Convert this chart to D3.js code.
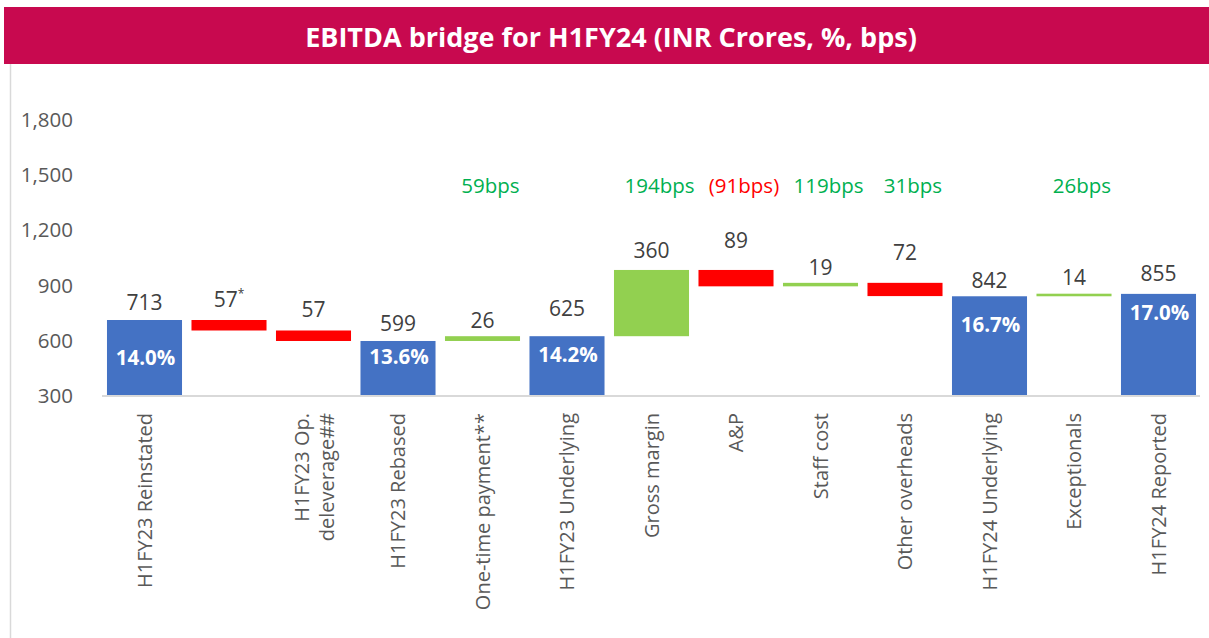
<!DOCTYPE html>
<html lang="en">
<head>
<meta charset="utf-8">
<title>EBITDA bridge for H1FY24</title>
<script src="https://d3js.org/d3.v7.min.js"></script>
<style>
  body { margin: 0; background: #fff; }
  svg { display: block; font-family: "Open Sans", sans-serif; }
</style>
</head>
<body>
<script>
// chart data
var categories = [
  ["H1FY23 Reinstated"], [], ["H1FY23 Op.", "deleverage##"], ["H1FY23 Rebased"],
  ["One-time payment**"], ["H1FY23 Underlying"], ["Gross margin"], ["A&P"],
  ["Staff cost"], ["Other overheads"], ["H1FY24 Underlying"], ["Exceptionals"],
  ["H1FY24 Reported"]
];
var values = [713, -57, -57, 599, 26, 625, 360, -89, 19, -72, 842, 14, 855];
var kinds = ["total", "dec", "dec", "total", "inc", "total", "inc", "dec", "inc", "dec", "total", "inc", "total"];
var valueLabels = ["713", "57", "57", "599", "26", "625", "360", "89", "19", "72", "842", "14", "855"];
var valueNotes = ["", "*", "", "", "", "", "", "", "", "", "", "", ""];
var marginLabels = ["14.0%", null, null, "13.6%", null, "14.2%", null, null, null, null, "16.7%", null, "17.0%"];
var bpsLabels = [null, null, null, null, "59bps", null, "194bps", "(91bps)", "119bps", "31bps", null, "26bps", null];
var bpsGood = [null, null, null, null, true, null, true, false, true, true, null, true, null];
var yTicks = [300, 600, 900, 1200, 1500, 1800];

// small hand nudges (px) for label placement, as in the source slide
var valueGap = [10, 13, 13, 10, 8, 20, 12, 22, 8, 23, 8, 9, 13];
var marginGap = [38, 0, 0, 16, 0, 19, 0, 0, 0, 0, 29, 0, 19];

var W = 1209, H = 638;
var colors = { total: "#4472C4", dec: "#FF0000", inc: "#92D050" };

var svg = d3.select("body").append("svg")
  .attr("width", W)
  .attr("height", H);

// title band
svg.append("rect")
  .attr("x", 4).attr("y", 7)
  .attr("width", W - 4).attr("height", 57)
  .attr("fill", "#C8094F");
svg.append("text")
  .attr("x", 611).attr("y", 47)
  .attr("text-anchor", "middle")
  .attr("fill", "#fff")
  .attr("font-weight", "bold")
  .attr("font-size", "27px")
  .text("EBITDA bridge for H1FY24 (INR Crores, %, bps)");

// plot frame line on the left
svg.append("line")
  .attr("x1", 10.5).attr("x2", 10.5)
  .attr("y1", 64).attr("y2", H)
  .attr("stroke", "#D9D9D9").attr("stroke-width", 1.5);

// running totals for the waterfall
var rows = [];
var running = 0;
for (var i = 0; i < values.length; i++) {
  var lo, hi;
  if (kinds[i] == "total") {
    running = values[i];
    lo = 300; hi = values[i];
  } else {
    var start = running;
    running = running + values[i];
    lo = Math.min(start, running);
    hi = Math.max(start, running);
  }
  rows.push({ i: i, lo: lo, hi: hi, kind: kinds[i] });
}

var x = d3.scaleBand()
  .domain(d3.range(values.length))
  .range([102.25, 1200.75])
  .paddingInner(0.112)
  .paddingOuter(0.056);

var y = d3.scaleLinear()
  .domain([300, 1800])
  .range([396, 120]);

// y axis (labels only)
var yAxis = svg.append("g")
  .attr("transform", "translate(84,0)")
  .call(d3.axisLeft(y).tickValues(yTicks).tickSize(0).tickPadding(11).tickFormat(d3.format(",")));
yAxis.select(".domain").remove();
yAxis.selectAll("text")
  .attr("fill", "#595959")
  .attr("font-size", "20.5px")
  .attr("font-family", "Open Sans, sans-serif");

// bars
svg.selectAll("rect.bar")
  .data(rows)
  .enter()
  .append("rect")
  .attr("class", "bar")
  .attr("x", function(d) { return x(d.i); })
  .attr("y", function(d) { return y(d.hi); })
  .attr("width", x.bandwidth())
  .attr("height", function(d) { return y(d.lo) - y(d.hi); })
  .attr("fill", function(d) { return colors[d.kind]; });

// baseline
svg.append("line")
  .attr("x1", 102).attr("x2", 1200)
  .attr("y1", y(300)).attr("y2", y(300))
  .attr("stroke", "#D9D9D9").attr("stroke-width", 2);

// value labels above bars
var vl = svg.selectAll("text.val")
  .data(rows)
  .enter()
  .append("text")
  .attr("class", "val")
  .attr("x", function(d) { return x(d.i) + x.bandwidth() / 2; })
  .attr("y", function(d) { return y(d.hi) - valueGap[d.i]; })
  .attr("text-anchor", "middle")
  .attr("fill", "#404040")
  .attr("font-size", "21px");
vl.append("tspan").text(function(d) { return valueLabels[d.i]; });
vl.filter(function(d) { return valueNotes[d.i] != ""; })
  .append("tspan")
  .attr("dy", -9)
  .attr("font-size", "12px")
  .text(function(d) { return valueNotes[d.i]; });

// margin % inside total bars
svg.selectAll("text.pct")
  .data(rows.filter(function(d) { return marginLabels[d.i]; }))
  .enter()
  .append("text")
  .attr("class", "pct")
  .attr("x", function(d) { return x(d.i) + x.bandwidth() / 2 + 1; })
  .attr("y", function(d) { return y(d.hi) + marginGap[d.i]; })
  .attr("dy", "0.35em")
  .attr("text-anchor", "middle")
  .attr("fill", "#fff")
  .attr("font-weight", "bold")
  .attr("font-size", "20.5px")
  .text(function(d) { return marginLabels[d.i]; });

// bps change labels
svg.selectAll("text.bps")
  .data(rows.filter(function(d) { return bpsLabels[d.i]; }))
  .enter()
  .append("text")
  .attr("class", "bps")
  .attr("x", function(d) { return x(d.i) + x.bandwidth() / 2 + 8; })
  .attr("y", 193)
  .attr("text-anchor", "middle")
  .attr("fill", function(d) { return bpsGood[d.i] ? "#00B050" : "#FF0000"; })
  .attr("font-size", "20.5px")
  .text(function(d) { return bpsLabels[d.i]; });

// rotated category labels
var cat = svg.selectAll("text.cat")
  .data(rows)
  .enter()
  .append("text")
  .attr("class", "cat")
  .attr("transform", function(d) {
    return "translate(" + (x(d.i) + x.bandwidth() / 2) + ",413) rotate(-90)";
  })
  .attr("text-anchor", "end")
  .attr("fill", "#595959")
  .attr("font-size", "20px");
cat.each(function(d) {
  var lines = categories[d.i];
  var t = d3.select(this);
  var first = 0.35 - (lines.length - 1) * 0.6;
  lines.forEach(function(s, k) {
    t.append("tspan")
      .attr("x", 0)
      .attr("dy", k == 0 ? first + "em" : "1.25em")
      .text(s);
  });
});
</script>
</body>
</html>
